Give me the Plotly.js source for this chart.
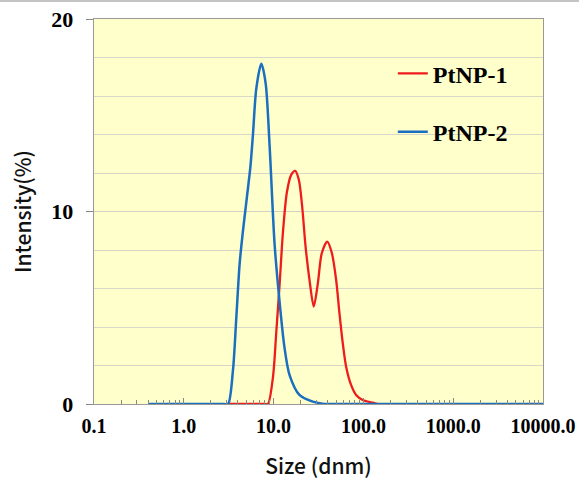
<!DOCTYPE html>
<html>
<head>
<meta charset="utf-8">
<script src="https://cdn.plot.ly/plotly-3.0.1.min.js"></script>
<style>
  html, body { margin: 0; padding: 0; background: #ffffff; }
  #wrap { position: relative; width: 579px; height: 483px; }
  #chart { width: 579px; height: 483px; }
  #topline { position: absolute; left: 0; top: 0; width: 579px; height: 2px; background: #c4c4c4; }
</style>
</head>
<body>
<div id="wrap">
  <div id="chart"></div>
  <div id="topline"></div>
</div>
<script>
// ---- data ----
const seriesNames = ["PtNP-1", "PtNP-2"];

const sizePtNP1 = [3.2, 5, 8.0, 8.65, 9.84, 10.7, 11.66, 12.7, 14.06, 15.7, 17.4, 19.1, 20.8, 22.7, 25.1, 28.0, 31.1, 34.4, 39.6, 44.5, 49.7, 54.1, 58.9, 64.2, 72.9, 83.0, 98.2, 127, 144];
const intPtNP1  = [0, 0, 0, 0, 1.4, 3.7, 6.2, 8.9, 11.0, 11.9, 12.11, 11.65, 10.26, 8.18, 6.45, 5.06, 6.27, 7.83, 8.44, 7.85, 6.45, 4.72, 3.16, 1.94, 0.99, 0.47, 0.21, 0.07, 0];

const sizePtNP2 = [0.4, 1, 2, 2.8, 3.11, 3.53, 3.85, 4.19, 4.56, 5.06, 5.51, 5.89, 6.42, 7.30, 8.15, 9.03, 10.26, 11.66, 13.25, 15.06, 19.4, 27.3, 35, 50, 100, 1000, 10000];
const intPtNP2  = [0, 0, 0, 0, 0, 1.77, 4.54, 7.31, 9.0, 10.8, 12.3, 14.0, 16.4, 17.68, 16.67, 13.4, 8.3, 5.3, 2.9, 1.5, 0.47, 0.12, 0.02, 0, 0, 0, 0];

const xTickVals = [0.1, 1, 10, 100, 1000, 10000];
const xTickText = ["0.1", "1.0", "10.0", "100.0", "1000.0", "10000.0"];
const yTickVals = [0, 10, 20];
const yTickText = ["0", "10", "20"];

// ---- chart ----
const minorVals = [];
for (let e = -1; e < 4; e++) {
  for (let d = 2; d <= 9; d++) minorVals.push(d * Math.pow(10, e));
}

const serif = "Liberation Serif, Times New Roman, serif";
const sans = "Noto Sans CJK JP, Noto Sans, sans-serif";

const traces = [
  {
    x: sizePtNP1, y: intPtNP1, name: seriesNames[0], type: "scatter", mode: "lines",
    line: { color: "#ee1c1c", width: 2.3, shape: "spline", smoothing: 0.8 },
    legendgroup: "a"
  },
  {
    x: sizePtNP2, y: intPtNP2, name: seriesNames[1], type: "scatter", mode: "lines",
    line: { color: "#1a6fc0", width: 2.5, shape: "spline", smoothing: 0.8 },
    legendgroup: "b"
  }
];

const layout = {
  width: 579, height: 483,
  margin: { l: 94, r: 36, t: 19, b: 79 },
  paper_bgcolor: "#ffffff",
  plot_bgcolor: "#ffffcc",
  showlegend: true,
  legend: {
    x: 0.6655, xanchor: "left", y: 0.916, yanchor: "top",
    bgcolor: "rgba(0,0,0,0)",
    font: { family: serif, size: 24, color: "#000", weight: "bold" },
    traceorder: "grouped", tracegroupgap: 24
  },
  xaxis: {
    type: "log", range: [-1, 4],
    tickmode: "array", tickvals: xTickVals, ticktext: xTickText,
    ticks: "inside", ticklen: 6, tickcolor: "#888", tickwidth: 1,
    ticklabelstandoff: 4,
    tickfont: { family: serif, size: 20, color: "#000", weight: "bold" },
    minor: { tickmode: "array", tickvals: minorVals, ticks: "inside", ticklen: 4, tickcolor: "#888", showgrid: false },
    showgrid: false, zeroline: false,
    showline: true, linecolor: "#999", linewidth: 1.3, mirror: true,
    title: { text: "Size (dnm)", font: { family: sans, size: 21, color: "#111", weight: 500 }, standoff: 23 },
    automargin: false
  },
  yaxis: {
    range: [0, 20],
    tickmode: "array", tickvals: yTickVals, ticktext: yTickText,
    ticks: "outside", ticklen: 7, tickcolor: "#888", tickwidth: 1,
    ticklabelstandoff: 8,
    tickfont: { family: serif, size: 22, color: "#000", weight: "bold" },
    showgrid: true, gridcolor: "#d2d2c2", gridwidth: 1,
    minor: { dtick: 2, tick0: 0, showgrid: true, gridcolor: "#d8d8c8", gridwidth: 1, ticks: "" },
    zeroline: false,
    showline: true, linecolor: "#999", linewidth: 1.3, mirror: true,
    title: { text: "Intensity(%)", font: { family: sans, size: 21, color: "#111", weight: 500 }, standoff: 14 },
    automargin: false
  }
};

Plotly.newPlot("chart", traces, layout, { displayModeBar: false, staticPlot: true });
</script>
</body>
</html>
